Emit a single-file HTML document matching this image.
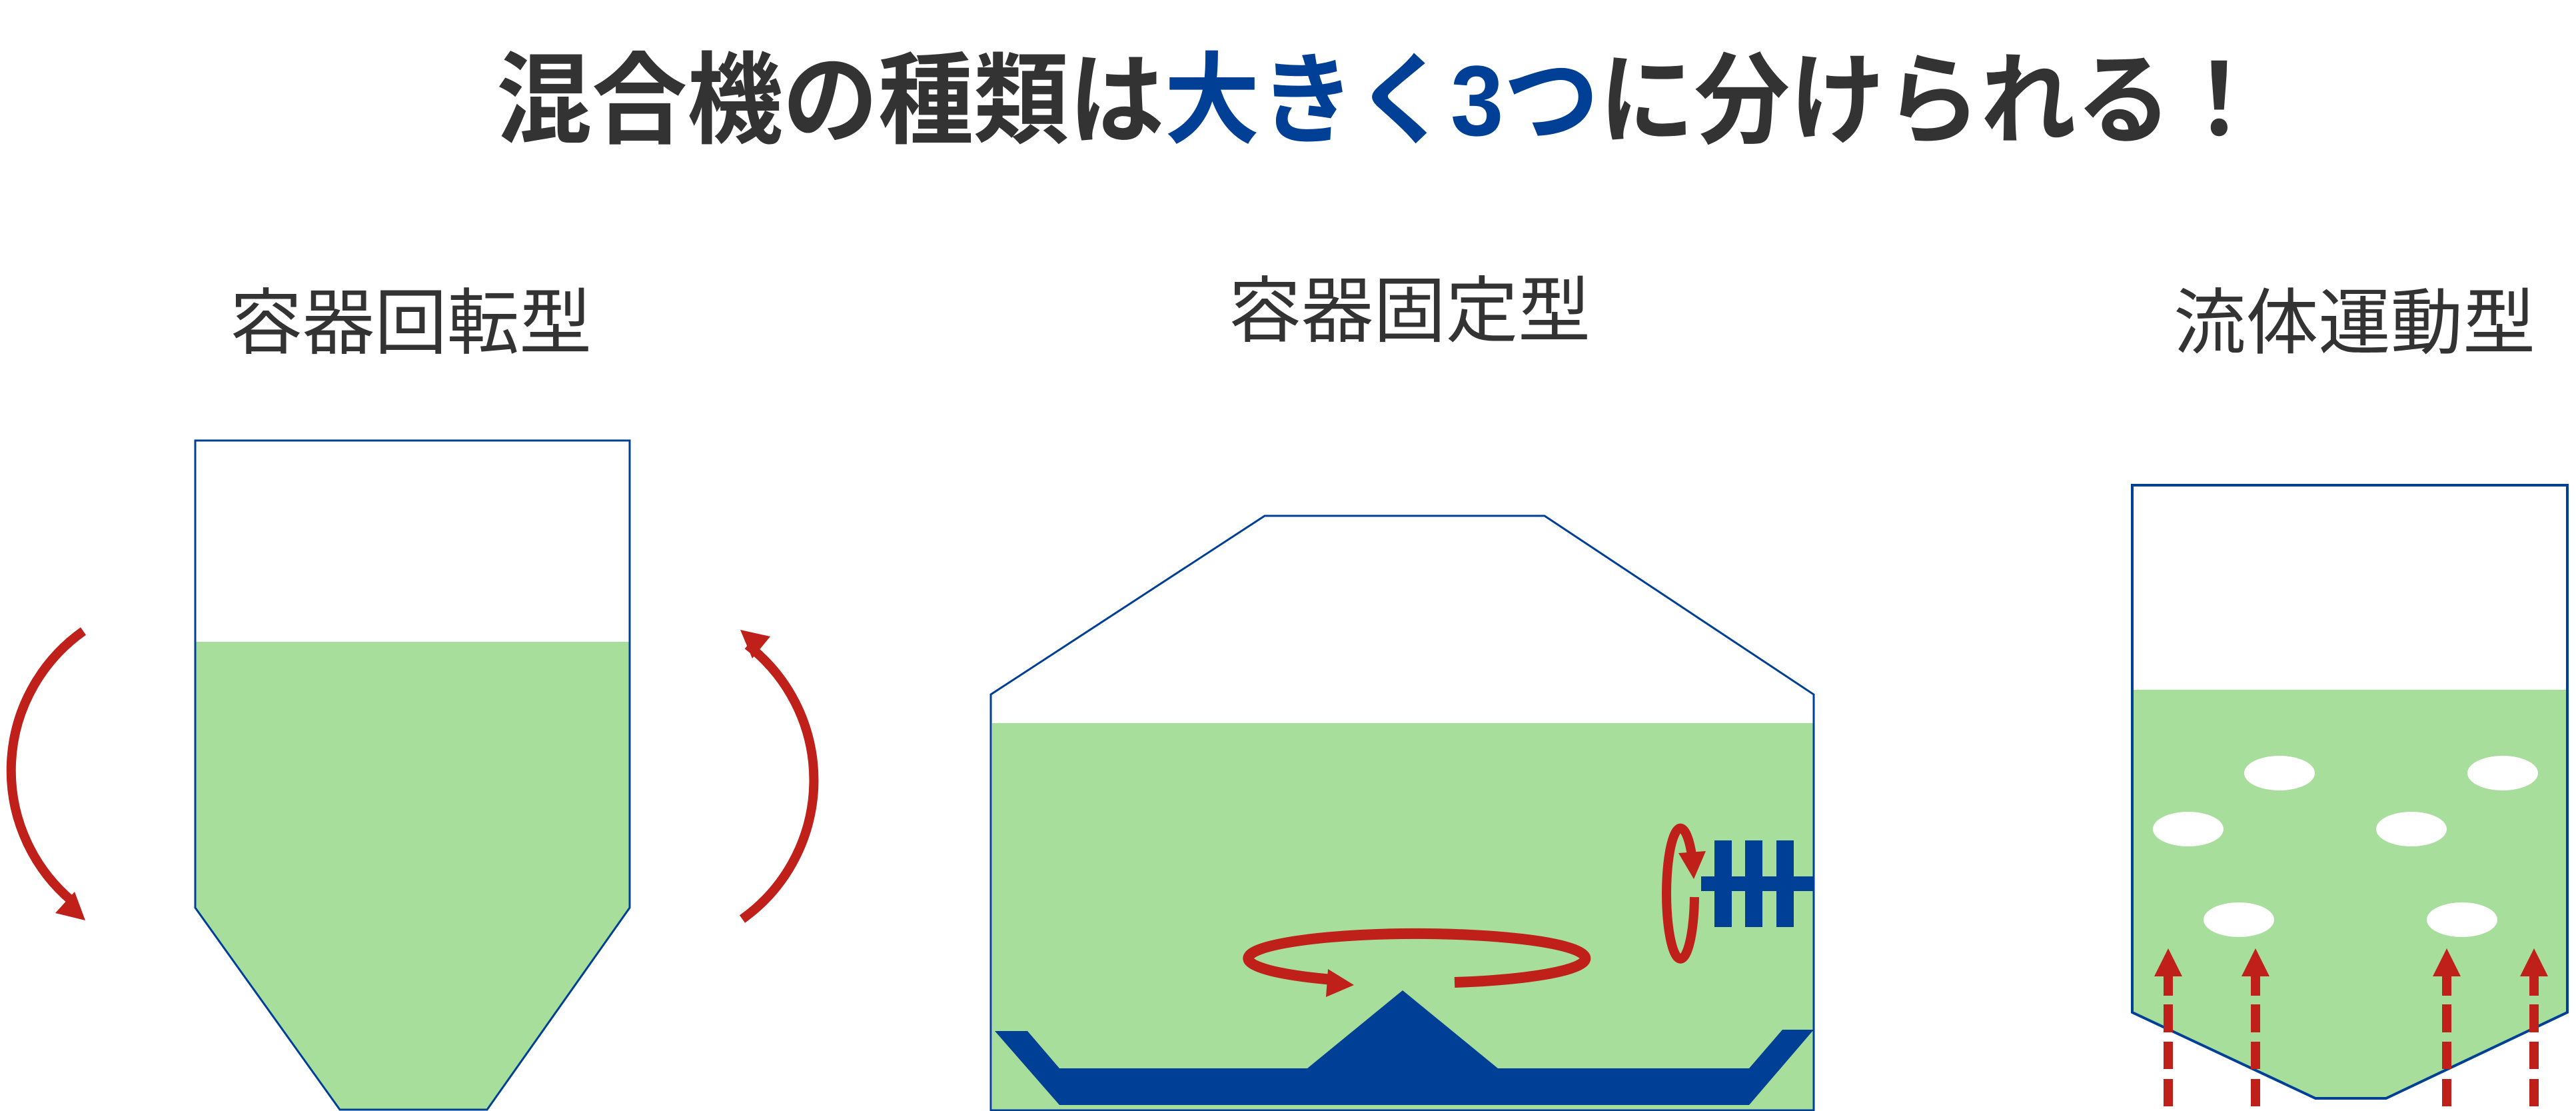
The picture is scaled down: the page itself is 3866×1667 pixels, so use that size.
<!DOCTYPE html>
<html><head><meta charset="utf-8"><style>
html,body{margin:0;padding:0;background:#fff;}
svg{display:block;}
</style></head><body>
<svg width="3866" height="1667" viewBox="0 0 3866 1667" xmlns="http://www.w3.org/2000/svg">
<rect width="3866" height="1667" fill="#fff"/>
<text x="745" y="203" font-family="'Liberation Sans','Noto Sans CJK JP',sans-serif" font-weight="bold" font-size="150" fill="#333" textLength="2657" lengthAdjust="spacingAndGlyphs">混合機の種類は<tspan fill="#003f96">大きく3つ</tspan>に分けられる！</text>
<g font-family="'Liberation Sans','Noto Sans CJK JP',sans-serif" font-size="108" fill="#333">
<text x="345" y="522" textLength="543" lengthAdjust="spacingAndGlyphs">容器回転型</text>
<text x="1844" y="504" textLength="543" lengthAdjust="spacingAndGlyphs">容器固定型</text>
<text x="3262" y="522" textLength="543" lengthAdjust="spacingAndGlyphs">流体運動型</text>
</g>
<!-- left vessel -->
<polygon points="293,963 945,963 945,1362 731,1665 510,1665 293,1362" fill="#a7de9b"/>
<polygon points="293,661 945,661 945,1362 731,1665 510,1665 293,1362" fill="none" stroke="#003f96" stroke-width="3"/>
<path d="M125,947 A256,256 0 0 0 108,1352" fill="none" stroke="#c0201a" stroke-width="14"/>
<polygon points="112,1338 83,1370 128,1381" fill="#c0201a"/>
<path d="M1114,1379 A256,256 0 0 0 1122,968" fill="none" stroke="#c0201a" stroke-width="14"/>
<polygon points="1111,945 1156,955 1129,988" fill="#c0201a"/>
<!-- middle vessel -->
<rect x="1489" y="1085" width="1233" height="581" fill="#a7de9b"/>
<polygon points="1487,1666 1487,1042 1898,774 2318,774 2722,1042 2722,1666" fill="none" stroke="#003f96" stroke-width="3"/>
<polygon points="1493,1547 1542,1547 1590,1603 1962,1603 2105,1486 2248,1603 2625,1603 2675,1545 2722,1545 2625,1658 1590,1658" fill="#003f96"/>
<path d="M2183,1474 A253,37 0 1 0 2000,1470" fill="none" stroke="#c0201a" stroke-width="16"/>
<polygon points="1993,1454 1990,1496 2032,1478" fill="#c0201a"/>
<rect x="2553" y="1315" width="169" height="22" fill="#003f96"/>
<rect x="2573" y="1261" width="26" height="130" fill="#003f96"/>
<rect x="2619" y="1261" width="26" height="130" fill="#003f96"/>
<rect x="2666" y="1261" width="26" height="130" fill="#003f96"/>
<path d="M2543,1346 A21,98 0 1 1 2540,1290" fill="none" stroke="#c0201a" stroke-width="14"/>
<polygon points="2519,1280 2560,1277 2542,1319" fill="#c0201a"/>
<!-- right vessel -->
<polygon points="3200,1035 3853,1035 3853,1519 3581,1648 3475,1648 3200,1519" fill="#a7de9b"/>
<polygon points="3200,728 3853,728 3853,1519 3581,1648 3475,1648 3200,1519" fill="none" stroke="#003f96" stroke-width="4"/>
<g fill="#fff">
<ellipse cx="3421" cy="1160" rx="53" ry="26"/>
<ellipse cx="3756" cy="1160" rx="53" ry="26"/>
<ellipse cx="3284" cy="1244" rx="53" ry="26"/>
<ellipse cx="3619" cy="1244" rx="53" ry="26"/>
<ellipse cx="3360" cy="1380" rx="53" ry="26"/>
<ellipse cx="3695" cy="1380" rx="53" ry="26"/>
</g>
<g fill="#c0201a">
<g id="a1">
<polygon points="3233,1465 3275,1465 3254,1423"/>
<rect x="3247" y="1464" width="14" height="30"/>
<rect x="3247" y="1507" width="14" height="42"/>
<rect x="3247" y="1563" width="14" height="41"/>
<rect x="3247" y="1619" width="14" height="41"/>
</g>
<use href="#a1" transform="translate(131,0)"/>
<use href="#a1" transform="translate(418,0)"/>
<use href="#a1" transform="translate(549,0)"/>
</g>
</svg>
</body></html>
